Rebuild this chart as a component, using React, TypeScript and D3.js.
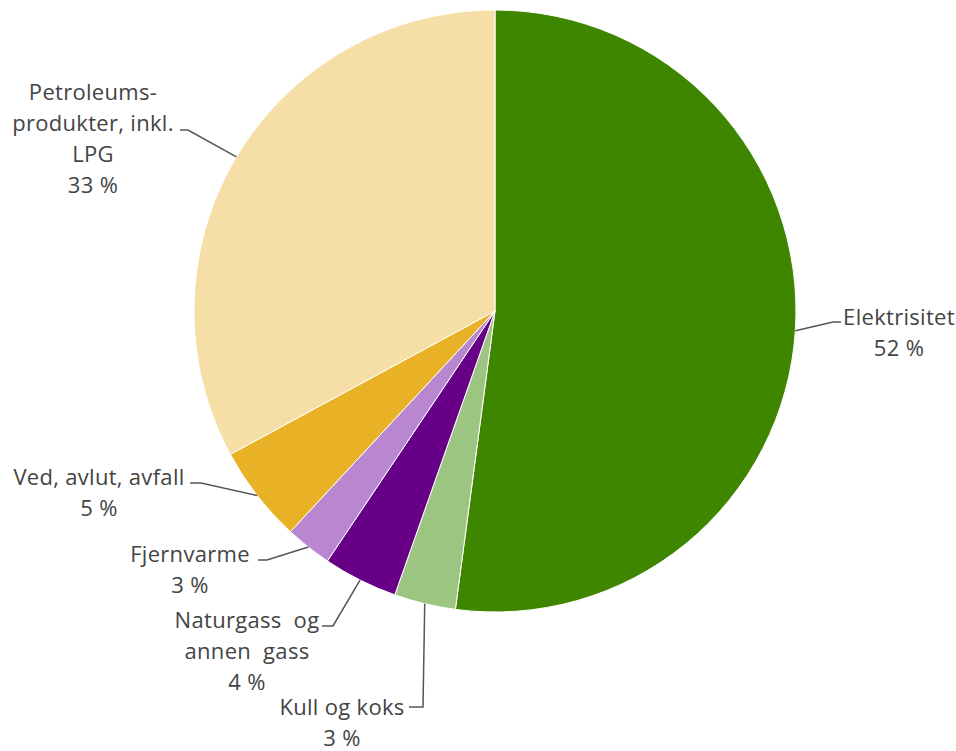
import React from "react";
import * as d3 from "d3";

const categories = [
  "Elektrisitet",
  "Kull og koks",
  "Naturgass og annen gass",
  "Fjernvarme",
  "Ved, avlut, avfall",
  "Petroleumsprodukter, inkl. LPG",
];
const values = [52.1, 3.3, 4.0, 2.5, 5.2, 32.9];
const colors = ["#3f8600", "#9dc582", "#680087", "#b986d0", "#e9b125", "#f6dfa6"];
const labelLines = [
  ["Elektrisitet"],
  ["Kull og koks"],
  ["Naturgass  og", "annen  gass"],
  ["Fjernvarme"],
  ["Ved, avlut, avfall"],
  ["Petroleums-", "produkter, inkl.", "LPG"],
];

// layout (not data): label text centre x, first baseline y, connector bend x, connector end x, connector y
const labelLayout = [
  { tx: 899, ty: 325, bx: 833, ex: 841, cy: 322 },
  { tx: 342, ty: 715, bx: 423, ex: 409, cy: 707 },
  { tx: 247, ty: 628, bx: 333, ex: 322, cy: 626 },
  { tx: 190, ty: 562, bx: 267, ex: 258, cy: 560 },
  { tx: 99, ty: 485, bx: 201, ex: 190, cy: 483 },
  { tx: 93, ty: 100, bx: 188, ex: 180, cy: 130 },
];

const W = 956;
const H = 751;
const CX = 495;
const CY = 311;
const R = 301;
const LINE_H = 31;

export default function App() {
  const pie = d3
    .pie<number>()
    .sort(null)
    .value((d) => d)
    .startAngle(0)
    .endAngle(2 * Math.PI);
  const arcs = pie(values);
  const arc = d3.arc<d3.PieArcDatum<number>>().innerRadius(0).outerRadius(R);
  const total = d3.sum(values);

  return (
    <svg
      width={W}
      height={H}
      style={{ position: "absolute", left: 0, top: 0, background: "#fff" }}
      fontFamily="'Open Sans', sans-serif"
    >
      <g transform={`translate(${CX},${CY})`}>
        {arcs.map((a, i) => (
          <path key={categories[i]} d={arc(a) || ""} fill={colors[i]} stroke="#ffffff" strokeWidth={1} />
        ))}
      </g>
      {arcs.map((a, i) => {
        const mid = (a.startAngle + a.endAngle) / 2;
        const px = CX + R * Math.sin(mid);
        const py = CY - R * Math.cos(mid);
        const L = labelLayout[i];
        const pct = Math.round((values[i] / total) * 100);
        const lines = [...labelLines[i], `${pct} %`];
        return (
          <g key={"l" + i}>
            <path
              d={`M${px},${py}L${L.bx},${L.cy}L${L.ex},${L.cy}`}
              fill="none"
              stroke="#555"
              strokeWidth={1.5}
            />
            <text
              fill="#444"
              fontSize={22}
              letterSpacing={0.3}
              textAnchor="middle"
              style={{ whiteSpace: "pre" }}
            >
              {lines.map((ln, j) => (
                <tspan key={j} x={L.tx} y={L.ty + j * LINE_H}>
                  {ln}
                </tspan>
              ))}
            </text>
          </g>
        );
      })}
    </svg>
  );
}
